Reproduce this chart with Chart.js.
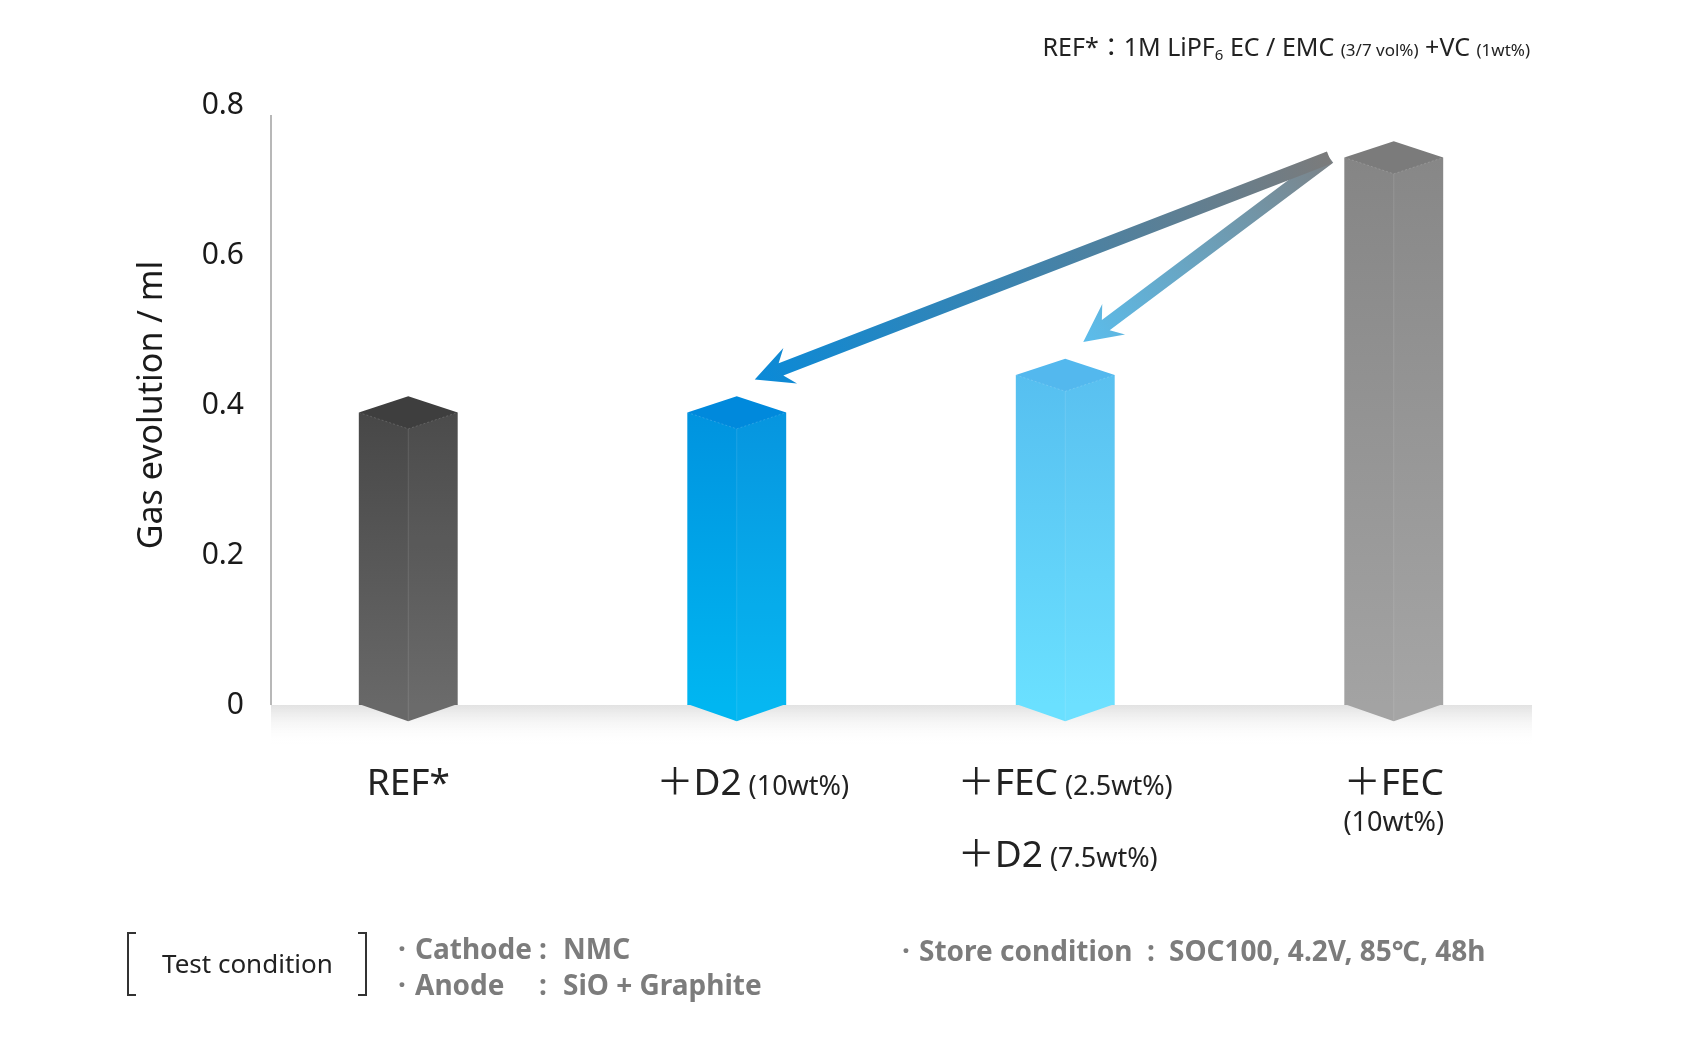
<!DOCTYPE html>
<html>
<head>
<meta charset="utf-8">
<script src="https://cdn.jsdelivr.net/npm/chart.js@4.4.1/dist/chart.umd.min.js"></script>
<style>
  html, body { margin: 0; padding: 0; background: #fff; }
  canvas { display: block; }
</style>
</head>
<body>
<canvas id="gas" width="1682" height="1047"></canvas>
<script>
// gas evolution after storage
const categories = ['REF*', '+D2 (10wt%)', '+FEC (2.5wt%) +D2 (7.5wt%)', '+FEC (10wt%)'];
const gasEvolution = [0.39, 0.39, 0.44, 0.73];
const yTicks = [0, 0.2, 0.4, 0.6, 0.8];

// x tick labels, one entry per line: [big text, small note]
const tickLines = [
  [['REF*', '']],
  [['＋D2', '(10wt%)']],
  [['＋FEC', '(2.5wt%)'], ['＋D2', '(7.5wt%)']],
  [['＋FEC', ''], ['', '(10wt%)']]
];

// arrows drawn from one bar to others
const arrowFrom = [3, 3];
const arrowTo = [1, 2];

// colours
const barTop = ['#3e3e3e', '#0089dc', '#53b8ee', '#7b7b7b'];
const barHi  = ['#474747', '#0093df', '#56bff0', '#858585'];
const barLo  = ['#686868', '#00b6f1', '#6ae0ff', '#a3a3a3'];
const arrowTail = ['#7b7b7b', '#7c8388'];
const arrowTip  = ['#0a8ad8', '#5bbdec'];

const FONT = '"Noto Sans", "Noto Sans CJK KR", sans-serif';

function poly(ctx, pts) {
  ctx.beginPath();
  pts.forEach((p, i) => i ? ctx.lineTo(p[0], p[1]) : ctx.moveTo(p[0], p[1]));
  ctx.closePath();
}

function runsWidth(ctx, runs) {
  let w = 0;
  runs.forEach(r => { ctx.font = r.f; w += ctx.measureText(r.t).width; });
  return w;
}

function drawRuns(ctx, runs, x, y) {
  runs.forEach(r => {
    ctx.font = r.f;
    ctx.fillText(r.t, x, y + (r.dy || 0));
    x += ctx.measureText(r.t).width;
  });
}

// floor, axis line and the 3d look of the bars
const bar3d = {
  id: 'bar3d',
  beforeDatasetsDraw(chart) {
    const { ctx, chartArea: a, scales: { y } } = chart;
    const y0 = y.getPixelForValue(0);
    const axisX = a.left + 27;
    ctx.save();
    const g = ctx.createLinearGradient(0, y0, 0, y0 + 40);
    g.addColorStop(0, '#e2e2e2');
    g.addColorStop(1, 'rgba(255,255,255,0)');
    ctx.fillStyle = g;
    ctx.fillRect(axisX, y0, a.right - 26 - axisX, 40);
    ctx.strokeStyle = '#b8b8b8';
    ctx.lineWidth = 2;
    ctx.beginPath();
    ctx.moveTo(axisX, a.top + 10);
    ctx.lineTo(axisX, y0);
    ctx.stroke();
    ctx.restore();
  },
  afterDatasetsDraw(chart) {
    const ctx = chart.ctx;
    const bars = chart.getDatasetMeta(0).data;
    ctx.save();
    bars.forEach((bar, i) => {
      const l = bar.x - bar.width / 2, r = bar.x + bar.width / 2, cx = bar.x;
      const t = bar.y, b = bar.base;
      const d = bar.width * 0.165;
      // bottom point
      ctx.fillStyle = barLo[i];
      poly(ctx, [[l, b - 1], [cx, b + d], [r, b - 1]]);
      ctx.fill();
      // right face a touch lighter
      ctx.fillStyle = 'rgba(255,255,255,0.025)';
      poly(ctx, [[cx, t + d], [r, t], [r, b], [cx, b + d]]);
      ctx.fill();
      // front edge
      ctx.strokeStyle = 'rgba(255,255,255,0.12)';
      ctx.lineWidth = 1;
      ctx.beginPath();
      ctx.moveTo(cx, t + d);
      ctx.lineTo(cx, b + d);
      ctx.stroke();
      // top face
      ctx.fillStyle = barTop[i];
      poly(ctx, [[l, t], [cx, t - d], [r, t], [cx, t + d]]);
      ctx.fill();
      ctx.setLineDash([2, 2]);
      ctx.strokeStyle = 'rgba(255,255,255,0.16)';
      ctx.beginPath();
      ctx.moveTo(l, t);
      ctx.lineTo(cx, t + d);
      ctx.lineTo(r, t);
      ctx.stroke();
      ctx.setLineDash([]);
    });

    // arrows, long one last so it sits on top
    for (let k = arrowFrom.length - 1; k >= 0; k--) {
      const src = bars[arrowFrom[k]], dst = bars[arrowTo[k]];
      const sx = src.x - src.width / 2 - 15, sy = src.y;
      const tx = dst.x + 18, ty = dst.y - 33;
      const len = Math.hypot(tx - sx, ty - sy);
      const ux = (tx - sx) / len, uy = (ty - sy) / len;
      const px = -uy, py = ux;
      const L = 38, W = 19, S = 6.5;
      const g = ctx.createLinearGradient(sx, sy, tx, ty);
      g.addColorStop(0, arrowTail[k]);
      g.addColorStop(1, arrowTip[k]);
      ctx.fillStyle = g;
      const nx = tx - ux * L * 0.74, ny = ty - uy * L * 0.74;
      poly(ctx, [
        [sx + px * S, sy + py * S],
        [nx + px * S, ny + py * S],
        [tx - ux * L + px * W, ty - uy * L + py * W],
        [tx, ty],
        [tx - ux * L - px * W, ty - uy * L - py * W],
        [nx - px * S, ny - py * S],
        [sx - px * S, sy - py * S]
      ]);
      ctx.fill();
    }
    ctx.restore();
  }
};

// category labels, top note and test conditions
const texts = {
  id: 'texts',
  afterDraw(chart) {
    const { ctx, chartArea: a, scales: { x } } = chart;
    const BIG = '37px ' + FONT, SMALL = '27px ' + FONT;
    ctx.save();
    ctx.textAlign = 'left';
    ctx.textBaseline = 'alphabetic';
    ctx.fillStyle = '#222';

    const runsOf = ([big, small]) => {
      const rs = [];
      if (big) rs.push({ t: big, f: BIG });
      if (small) rs.push({ t: (big ? ' ' : '') + small, f: SMALL });
      return rs;
    };
    tickLines.forEach((lines, i) => {
      const widths = lines.map(ln => runsWidth(ctx, runsOf(ln)));
      const block = Math.max(...widths);
      const cx = x.getPixelForValue(i) + (i === 1 ? 16 : 0);
      const leftAlign = lines.length > 1 && lines.every(ln => ln[0]);
      let base = a.bottom + 90;
      lines.forEach((ln, j) => {
        if (j > 0) base += ln[0] ? 72 : 36;
        const sx = leftAlign ? cx - block / 2 : cx - widths[j] / 2;
        drawRuns(ctx, runsOf(ln), sx, base);
      });
    });

    // electrolyte note, top right
    const T1 = '25px ' + FONT, T2 = '17px ' + FONT, T3 = '15px ' + FONT;
    const note = [
      { t: 'REF*：1M LiPF', f: T1 }, { t: '6', f: T3, dy: 4 }, { t: ' EC / EMC ', f: T1 },
      { t: '(3/7 vol%)', f: T2 }, { t: ' +VC ', f: T1 }, { t: '(1wt%)', f: T2 }
    ];
    drawRuns(ctx, note, a.right - 28 - runsWidth(ctx, note), 56);

    // test condition box
    ctx.strokeStyle = '#333';
    ctx.lineWidth = 2;
    ctx.beginPath();
    ctx.moveTo(136, 933); ctx.lineTo(128, 933); ctx.lineTo(128, 995); ctx.lineTo(136, 995);
    ctx.moveTo(358, 933); ctx.lineTo(366, 933); ctx.lineTo(366, 995); ctx.lineTo(358, 995);
    ctx.stroke();
    ctx.textBaseline = 'middle';
    ctx.font = '26px ' + FONT;
    ctx.fillStyle = '#222';
    ctx.fillText('Test condition', 162, 966);

    ctx.font = 'bold 28px ' + FONT;
    ctx.fillStyle = '#7c7c7c';
    const rows = [
      [398, 951, '·', 415, 'Cathode', 539, ':', 563, 'NMC'],
      [398, 987, '·', 415, 'Anode', 539, ':', 563, 'SiO + Graphite'],
      [902, 953, '·', 919, 'Store condition', 1147, ':', 1169, 'SOC100, 4.2V, 85℃, 48h']
    ];
    rows.forEach(r => {
      ctx.fillText(r[2], r[0], r[1]);
      ctx.fillText(r[4], r[3], r[1]);
      ctx.fillText(r[6], r[5], r[1]);
      ctx.fillText(r[8], r[7], r[1]);
    });
    ctx.restore();
  }
};

new Chart(document.getElementById('gas'), {
  type: 'bar',
  data: {
    labels: categories,
    datasets: [{
      data: gasEvolution,
      borderWidth: 0,
      categoryPercentage: 1,
      barPercentage: 0.301,
      backgroundColor: c => {
        const ch = c.chart;
        if (!ch.chartArea || !ch.scales.y) return barHi[c.dataIndex];
        const top = ch.scales.y.getPixelForValue(gasEvolution[c.dataIndex]);
        const g = ch.ctx.createLinearGradient(0, top, 0, ch.chartArea.bottom);
        g.addColorStop(0, barHi[c.dataIndex]);
        g.addColorStop(1, barLo[c.dataIndex]);
        return g;
      }
    }]
  },
  options: {
    responsive: false,
    animation: false,
    layout: { padding: { left: 118, right: 124, top: 105, bottom: 342 } },
    plugins: { legend: { display: false }, tooltip: { enabled: false } },
    scales: {
      x: { display: false },
      y: {
        min: 0,
        max: 0.8,
        afterBuildTicks: s => { s.ticks = yTicks.map(v => ({ value: v })); },
        afterFit: s => { s.width = 126; },
        grid: { display: false, drawTicks: false },
        border: { display: false },
        ticks: {
          padding: 0,
          color: '#1a1a1a',
          font: { family: FONT, size: 30 },
          callback: v => v === 0 ? '0' : Number(v).toFixed(1)
        },
        title: {
          display: true,
          text: 'Gas evolution / ml',
          color: '#1a1a1a',
          font: { family: FONT, size: 34 },
          padding: { top: 14, bottom: 0 }
        }
      }
    }
  },
  plugins: [bar3d, texts]
});
</script>
</body>
</html>
